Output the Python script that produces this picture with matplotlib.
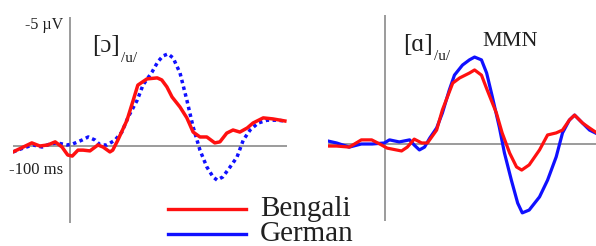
import matplotlib
matplotlib.use("Agg")
import matplotlib.pyplot as plt
from matplotlib.lines import Line2D

plt.rcParams['font.family'] = ['Liberation Serif', 'DejaVu Serif']

# left panel [ɔ]: time (ms), amplitude (µV, negative up)
t_l_beng = [-100, -82, -67, -53, -39, -26, -14, -4, 4, 14, 23, 35, 49, 58, 70, 75, 84, 100,
            111, 119, 135, 153, 161, 170, 179, 193, 205, 216, 228, 240, 254, 263, 275, 286,
            298, 311, 321, 339, 356, 377]
v_l_beng = [0.23, 0.04, -0.12, 0.0, -0.04, -0.16, 0.04, 0.35, 0.39, 0.16, 0.16, 0.19, -0.04,
            0.04, 0.23, 0.16, -0.23, -1.0, -1.78, -2.36, -2.6, -2.64, -2.56, -2.29, -1.9,
            -1.51, -1.09, -0.54, -0.35, -0.35, -0.12, -0.16, -0.5, -0.62, -0.54, -0.7, -0.89,
            -1.09, -1.05, -0.97]
t_l_germ = [-100, -82, -65, -49, -35, -23, -5, 5, 21, 32, 44, 53, 65, 79, 91, 102, 118, 128,
            144, 154, 163, 172, 181, 193, 205, 216, 228, 240, 251, 258, 268, 281, 293, 304,
            316, 330, 346, 363, 377]
v_l_germ = [0.23, 0.08, -0.04, 0.04, -0.08, -0.12, -0.04, -0.08, -0.23, -0.35, -0.23, -0.04,
            -0.04, -0.23, -0.54, -1.12, -1.78, -2.36, -2.87, -3.26, -3.49, -3.57, -3.41, -2.83,
            -1.78, -0.74, 0.16, 0.81, 1.2, 1.32, 1.2, 0.81, 0.43, -0.23, -0.62, -0.89, -1.0,
            -1.0, -0.97]

# right panel [ɑ]
t_r_germ = [-101, -85, -63, -42, -23, -2, 7, 24, 42, 50, 59, 68, 77, 89, 99, 111, 120, 134,
            146, 155, 167, 176, 186, 198, 207, 219, 230, 238, 250, 268, 282, 297, 308, 320,
            329, 341, 355, 365]
v_r_germ = [-0.12, -0.04, 0.12, 0.0, 0.0, -0.04, -0.16, -0.08, -0.16, 0.04, 0.23, 0.12, -0.23,
            -0.62, -1.2, -2.09, -2.67, -3.06, -3.26, -3.37, -3.26, -2.75, -1.82, -0.66, 0.35,
            1.4, 2.29, 2.67, 2.56, 2.05, 1.4, 0.5, -0.43, -0.93, -1.12, -0.85, -0.54, -0.43]
t_r_beng = [-101, -85, -63, -42, -24, -10, 3, 28, 38, 50, 63, 73, 89, 99, 117, 129, 146, 155,
            167, 177, 193, 203, 216, 228, 237, 250, 268, 282, 297, 308, 320, 329, 343, 355, 365]
v_r_beng = [0.08, 0.08, 0.12, -0.16, -0.16, 0.0, 0.16, 0.27, 0.12, -0.19, -0.04, -0.04, -0.54,
            -1.32, -2.36, -2.56, -2.75, -2.87, -2.67, -2.09, -1.2, -0.43, 0.35, 0.89, 1.01,
            0.81, 0.23, -0.35, -0.43, -0.54, -0.93, -1.12, -0.81, -0.62, -0.47]

legend_labels = ["Bengali", "German"]
red = "#ff1010"
blue = "#1010ff"
grey = "#8a8a8a"
txt = "#202020"

W, H = 596, 246
fig = plt.figure(figsize=(W / 100, H / 100), dpi=100)


def px_axes(x0, x1, y_top, y_bot):
    return fig.add_axes([x0 / W, 1 - y_bot / H, (x1 - x0) / W, (y_bot - y_top) / H])


axl = px_axes(13, 286.6, 17, 223.4)
axl.set_xlim(-100, 380)
axl.set_ylim(3, -5)
axr = px_axes(328, 597, 15, 221.4)
axr.set_xlim(-100, 368)
axr.set_ylim(3, -5)

for ax in (axl, axr):
    ax.axis("off")
    ax.axhline(0, color=grey, lw=1.2, zorder=1)
    ax.axvline(0, color=grey, lw=1.2, zorder=1)

axl.plot(t_l_beng, v_l_beng, color=red, lw=2.5, solid_joinstyle="round", zorder=3)
axl.plot(t_l_germ, v_l_germ, color=blue, lw=2.5, ls=(0, (1.0, 1.0)), zorder=2)
axr.plot(t_r_germ, v_r_germ, color=blue, lw=2.3, solid_joinstyle="round", zorder=2)
axr.plot(t_r_beng, v_r_beng, color=red, lw=2.3, solid_joinstyle="round", zorder=3)

fig.text(63 / W, 1 - 25 / H, "-5 µV", ha="right", va="center", fontsize=11.5, color=txt)
fig.text(9 / W, 1 - 170 / H, "-100 ms", ha="left", va="center", fontsize=12, color=txt)

fig.text(92 / W, 1 - 46 / H, "[ɔ]", ha="left", va="center", fontsize=18, color=txt)
fig.text(121 / W, 1 - 58 / H, "/u/", ha="left", va="center", fontsize=11, color=txt)
fig.text(403 / W, 1 - 45 / H, "[ɑ]", ha="left", va="center", fontsize=18, color=txt)
fig.text(434 / W, 1 - 57 / H, "/u/", ha="left", va="center", fontsize=11, color=txt)
fig.text(482 / W, 1 - 42 / H, "MMN", ha="left", va="center", fontsize=16, color=txt)

# legend drawn as lines + text in figure pixels
for lab, col, y in zip(legend_labels, [red, blue], [209, 234]):
    fig.add_artist(Line2D([168 / W, 246 / W], [1 - y / H, 1 - y / H], color=col, lw=2.4))
    fig.text(260 / W, 1 - y / H, lab, ha="left", va="center", fontsize=21, color=txt)

fig.savefig("out.png", dpi=100)
